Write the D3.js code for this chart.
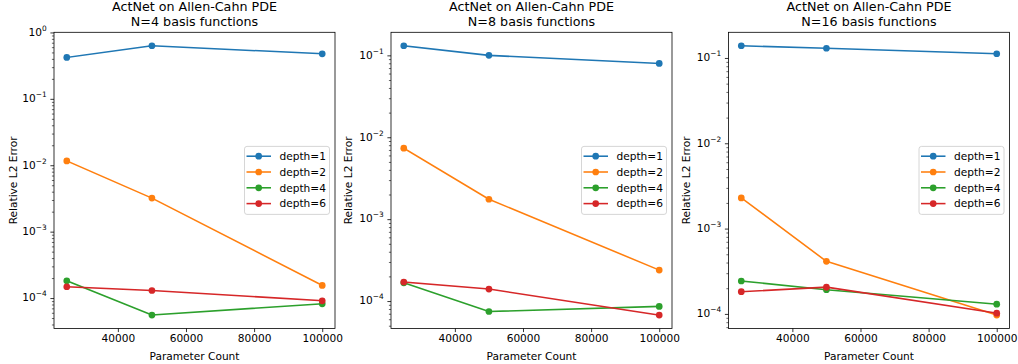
<!DOCTYPE html>
<html>
<head>
<meta charset="utf-8">
<script src="https://cdn.jsdelivr.net/npm/d3@7"></script>
<style>
  body { margin: 0; background: #fff; }
  svg { display: block; font-family: "DejaVu Sans", sans-serif; }
</style>
</head>
<body>
<svg id="chart" width="1018" height="364"></svg>
<script>
// ---- data ----
const paramCounts = [25000, 50000, 100000];
const depthLabels = ["depth=1", "depth=2", "depth=4", "depth=6"];
const seriesColors = ["#1f77b4", "#ff7f0e", "#2ca02c", "#d62728"];
const panelTitles = ["N=4 basis functions", "N=8 basis functions", "N=16 basis functions"];
const mainTitle = "ActNet on Allen-Cahn PDE";
const xTickValues = [40000, 60000, 80000, 100000];

// errors per depth (rows) at each parameter count (columns)
const errorsN4 = [
  [0.42, 0.63, 0.477],
  [0.0116, 0.0032, 1.55e-4],
  [1.82e-4, 5.55e-5, 8.2e-5],
  [1.48e-4, 1.30e-4, 9.1e-5]
];
const errorsN8 = [
  [0.131, 0.100, 0.0798],
  [0.00735, 0.00175, 2.39e-4],
  [1.67e-4, 7.46e-5, 8.6e-5],
  [1.71e-4, 1.40e-4, 6.75e-5]
];
const errorsN16 = [
  [0.139, 0.130, 0.112],
  [0.00229, 4.13e-4, 9.7e-5],
  [2.43e-4, 1.92e-4, 1.30e-4],
  [1.82e-4, 2.06e-4, 1.02e-4]
];
const panelData = [errorsN4, errorsN8, errorsN16];

// ---- layout ----
const panelLefts = [54, 391, 728.5];
const axW = 281, axTop = 32.3, axBottom = 328.5;
const tickFont = 10.6, titleFont = 12.7;
const svg = d3.select("#chart");

panelData.forEach((data, pi) => {
  const left = panelLefts[pi];
  const g = svg.append("g").attr("transform", `translate(${left},0)`);

  // x scale with matplotlib-like 5% margins
  const xmin = d3.min(paramCounts), xmax = d3.max(paramCounts);
  const xm = (xmax - xmin) * 0.05;
  const x = d3.scaleLinear().domain([xmin - xm, xmax + xm]).range([0, axW]);

  // y log scale with 5% margins in log space
  const allVals = data.flat();
  const lmin = Math.log10(d3.min(allVals)), lmax = Math.log10(d3.max(allVals));
  const lm = (lmax - lmin) * 0.05;
  const y = d3.scaleLog().domain([Math.pow(10, lmin - lm), Math.pow(10, lmax + lm)]).range([axBottom, axTop]);

  g.append("rect").attr("x", 0).attr("y", axTop).attr("width", axW).attr("height", axBottom - axTop)
    .attr("fill", "#fff");

  // y ticks (major + minor)
  const [d0, d1] = y.domain();
  const majors = [], minors = [];
  for (let e = Math.floor(Math.log10(d0)); e <= Math.ceil(Math.log10(d1)); e++) {
    for (let m = 1; m < 10; m++) {
      const v = m * Math.pow(10, e);
      if (v < d0 * 0.9999 || v > d1 * 1.0001) continue;
      if (m === 1) majors.push(e); else minors.push(v);
    }
  }
  const ga = g.append("g").call(d3.axisLeft(y).tickValues(minors).tickSize(2.1).tickFormat(""));
  ga.select(".domain").remove();
  ga.selectAll("line").attr("stroke", "#000").attr("stroke-width", 0.6);

  const gm = g.append("g").call(d3.axisLeft(y).tickValues(majors.map(e => Math.pow(10, e))).tickSize(3.6).tickFormat(""));
  gm.select(".domain").remove();
  gm.selectAll("line").attr("stroke", "#000").attr("stroke-width", 0.8);
  majors.forEach(e => {
    const t = g.append("text").attr("x", -7.3).attr("y", y(Math.pow(10, e)) + 3.3)
      .attr("text-anchor", "end").attr("font-size", tickFont).attr("fill", "#000");
    t.append("tspan").text("10");
    t.append("tspan").attr("dy", -5).attr("font-size", 7.4)
      .text(String(e).replace("-", "\u2212"));
  });

  // x ticks
  const xAxis = d3.axisBottom(x).tickValues(xTickValues).tickSize(3.6).tickPadding(2.5)
    .tickFormat(d3.format("d"));
  const gx = g.append("g").attr("transform", `translate(0,${axBottom})`).call(xAxis);
  gx.select(".domain").remove();
  gx.selectAll("line").attr("stroke", "#000").attr("stroke-width", 0.8);
  gx.selectAll("text").attr("font-size", tickFont).attr("font-family", "DejaVu Sans").attr("fill", "#000");

  // series lines and markers
  const line = d3.line().x((d, i) => x(paramCounts[i])).y(d => y(d));
  data.forEach((vals, si) => {
    g.append("path").datum(vals).attr("d", line).attr("fill", "none")
      .attr("stroke", seriesColors[si]).attr("stroke-width", 1.56)
      .attr("stroke-linejoin", "round").attr("stroke-linecap", "square");
    g.selectAll(null).data(vals).enter().append("circle")
      .attr("cx", (d, i) => x(paramCounts[i])).attr("cy", d => y(d)).attr("r", 3.35)
      .attr("fill", seriesColors[si]);
  });

  // frame spines
  g.append("rect").attr("x", 0).attr("y", axTop).attr("width", axW).attr("height", axBottom - axTop)
    .attr("fill", "none").attr("stroke", "#000").attr("stroke-width", 0.8);

  // legend (center right)
  const lgW = 85, lgH = 68;
  const lgX = axW - 5.5 - lgW, lgY = (axTop + axBottom) / 2 - lgH / 2;
  const lg = g.append("g").attr("transform", `translate(${lgX},${lgY})`);
  lg.append("rect").attr("width", lgW).attr("height", lgH).attr("rx", 2.5).attr("ry", 2.5)
    .attr("fill", "#fff").attr("fill-opacity", 0.8).attr("stroke", "#cccccc").attr("stroke-width", 0.8);
  depthLabels.forEach((lab, si) => {
    const cy = 9.8 + si * 15.8;
    lg.append("line").attr("x1", 2).attr("x2", 26.5).attr("y1", cy).attr("y2", cy)
      .attr("stroke", seriesColors[si]).attr("stroke-width", 1.56);
    lg.append("circle").attr("cx", 14.2).attr("cy", cy).attr("r", 3.35).attr("fill", seriesColors[si]);
    lg.append("text").attr("x", 35).attr("y", cy + 3.8).attr("font-size", tickFont).attr("fill", "#000").text(lab);
  });

  // titles and axis labels
  g.append("text").attr("x", axW / 2).attr("y", 10.6).attr("text-anchor", "middle")
    .attr("font-size", titleFont).attr("fill", "#000").text(mainTitle);
  g.append("text").attr("x", axW / 2).attr("y", 25.6).attr("text-anchor", "middle")
    .attr("font-size", titleFont).attr("fill", "#000").text(panelTitles[pi]);
  g.append("text").attr("x", axW / 2).attr("y", 360.3).attr("text-anchor", "middle")
    .attr("font-size", tickFont).attr("fill", "#000").text("Parameter Count");
  const ylabX = [16.5, 352, 689.5][pi] - left;
  g.append("text").attr("transform", `translate(${ylabX},${(axTop + axBottom) / 2}) rotate(-90)`)
    .attr("text-anchor", "middle").attr("font-size", tickFont).attr("fill", "#000").text("Relative L2 Error");
});
</script>
</body>
</html>
